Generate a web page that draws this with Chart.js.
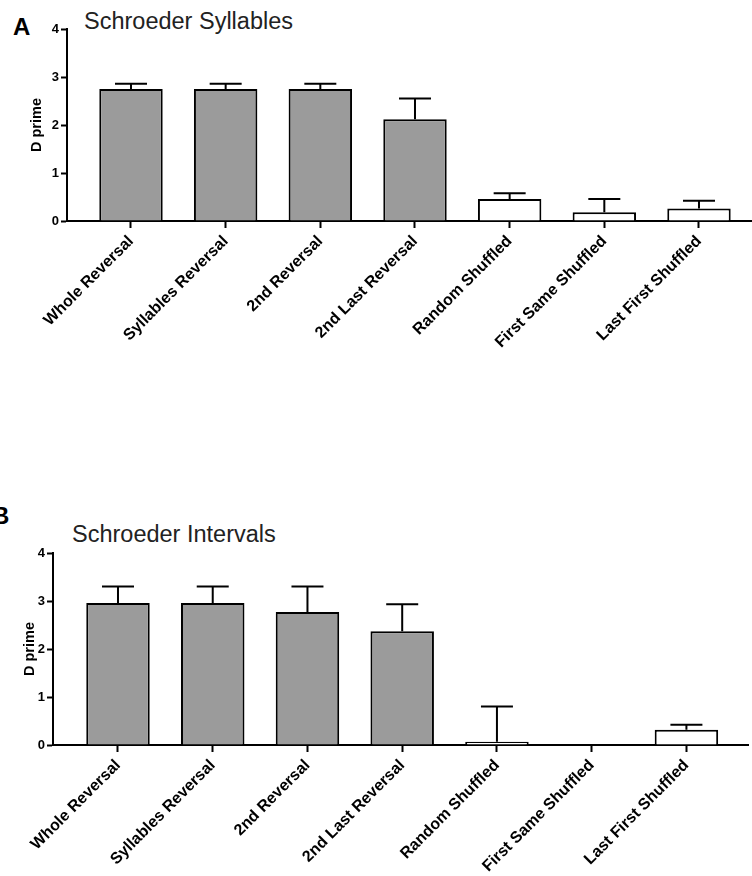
<!DOCTYPE html>
<html>
<head>
<meta charset="utf-8">
<script src="https://cdn.jsdelivr.net/npm/chart.js@4/dist/chart.umd.min.js"></script>
<style>
  body { margin: 0; background: #fff; width: 752px; height: 876px; overflow: hidden; position: relative; font-family: "Liberation Sans", Arial, sans-serif; }
  .panel { position: absolute; left: 0; }
  .letter { position: absolute; font-weight: bold; font-size: 24px; line-height: 1; color: #000; }
  .title { position: absolute; font-size: 23.5px; line-height: 1; color: #222; }
</style>
</head>
<body>
<div class="letter" style="left:13px; top:15px;">A</div>
<div class="title" style="left:84px; top:10px;">Schroeder Syllables</div>
<canvas id="chartA" class="panel" style="top:0px;" width="752" height="360"></canvas>

<div class="letter" style="left:-8px; top:504px;">B</div>
<div class="title" style="left:72px; top:523px;">Schroeder Intervals</div>
<canvas id="chartB" class="panel" style="top:480px;" width="752" height="396"></canvas>

<script>
const conditions = [
    "Whole Reversal", "Syllables Reversal", "2nd Reversal", "2nd Last Reversal",
    "Random Shuffled", "First Same Shuffled", "Last First Shuffled"
];
const barFills = ["#9b9b9b", "#9b9b9b", "#9b9b9b", "#9b9b9b", "#ffffff", "#ffffff", "#ffffff"];

// A: Schroeder Syllables (mean D prime and SEM)
const syllablesMean = [2.75, 2.75, 2.75, 2.12, 0.46, 0.18, 0.26];
const syllablesSem = [0.11, 0.11, 0.11, 0.43, 0.12, 0.28, 0.16];

// B: Schroeder Intervals
const intervalsMean = [2.96, 2.96, 2.77, 2.37, 0.07, 0, 0.32];
const intervalsSem = [0.34, 0.34, 0.53, 0.56, 0.73, 0, 0.10];

const yTicks = [0, 1, 2, 3, 4];

// draws the upper SEM whiskers through the chart scales
const errorBars = {
    id: "errorBars",
    afterDatasetsDraw(chart, args, opts) {
        const ctx = chart.ctx;
        const xs = chart.scales.x, ys = chart.scales.y;
        ctx.save();
        ctx.strokeStyle = "#000";
        ctx.lineWidth = 2;
        opts.means.forEach((m, i) => {
            const e = opts.sem[i];
            if (!e) return;
            const x = xs.getPixelForValue(i);
            const yb = ys.getPixelForValue(m);
            const yt = ys.getPixelForValue(m + e);
            ctx.beginPath();
            ctx.moveTo(x, yb);
            ctx.lineTo(x, yt);
            ctx.moveTo(x - 16, yt);
            ctx.lineTo(x + 16, yt);
            ctx.stroke();
        });
        ctx.restore();
    }
};

function makeChart(id, means, sem, cfg) {
    const ctx = document.getElementById(id).getContext("2d");
    return new Chart(ctx, {
        type: "bar",
        data: {
            datasets: [{
                data: means.map((v, i) => ({ x: i, y: v })),
                backgroundColor: barFills,
                borderColor: "#000",
                borderWidth: 2,
                barPercentage: 0.67,
                categoryPercentage: 1
            }]
        },
        options: {
            responsive: false,
            animation: false,
            layout: { padding: { top: cfg.top, right: cfg.right, left: 0, bottom: 0 } },
            plugins: {
                legend: { display: false },
                tooltip: { enabled: false },
                errorBars: { means: means, sem: sem }
            },
            scales: {
                x: {
                    type: "linear",
                    offset: false,
                    bounds: "data",
                    min: cfg.xMin,
                    max: cfg.xMax,
                    afterBuildTicks: (axis) => { axis.ticks = conditions.map((c, i) => ({ value: i })); },
                    afterFit: (axis) => { axis.height = cfg.xHeight; axis.paddingLeft = 0; axis.paddingRight = 0; },
                    ticks: {
                        autoSkip: false,
                        minRotation: 45,
                        maxRotation: 45,
                        padding: 4,
                        color: "#000",
                        font: { family: "Liberation Sans", size: 16, weight: "bold" },
                        callback: (v) => conditions[v]
                    },
                    grid: { offset: false, drawOnChartArea: false, drawTicks: true, tickLength: 7, tickWidth: 2, tickColor: "#000" },
                    border: { display: true, color: "#000", width: 2 }
                },
                y: {
                    min: 0,
                    max: 4,
                    afterBuildTicks: (axis) => { axis.ticks = yTicks.map(v => ({ value: v })); },
                    afterFit: (axis) => { axis.width = cfg.yWidth; },
                    ticks: {
                        padding: 2,
                        color: "#000",
                        font: { family: "Liberation Sans", size: 13, weight: "bold" }
                    },
                    grid: { drawOnChartArea: false, drawTicks: true, tickLength: 6, tickWidth: 2, tickColor: "#000" },
                    border: { display: true, color: "#000", width: 2 },
                    title: {
                        display: true,
                        text: "D prime",
                        color: "#000",
                        padding: { top: cfg.titlePad, bottom: 0 },
                        font: { family: "Liberation Sans", size: 14.5, weight: "bold" }
                    }
                }
            }
        },
        plugins: [errorBars]
    });
}

makeChart("chartA", syllablesMean, syllablesSem,
    { top: 29, right: 0, xMin: -0.676, xMax: 6.56, xHeight: 139, yWidth: 67, titlePad: 28 });
makeChart("chartB", intervalsMean, intervalsSem,
    { top: 73, right: 4, xMin: -0.686, xMax: 6.65, xHeight: 131, yWidth: 53, titlePad: 21 });
</script>
</body>
</html>
